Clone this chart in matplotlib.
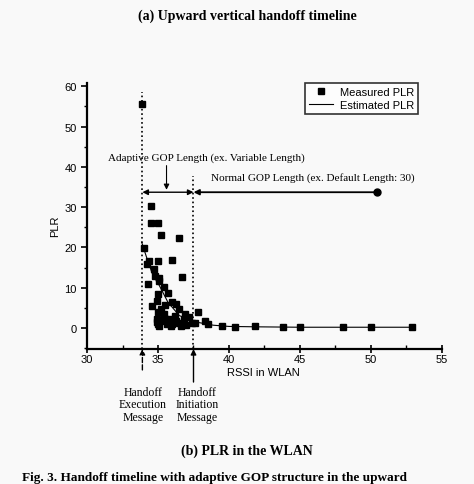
import matplotlib
matplotlib.use("Agg")
import matplotlib.pyplot as plt
from matplotlib.ticker import MultipleLocator

# measured PLR (RSSI, PLR)
meas_x = [33.9, 34.5, 34.5, 35.0, 35.2, 36.5, 34.0, 36.0, 34.4, 35.0, 34.2,
          36.7, 34.7, 34.3, 35.1, 34.8, 35.1, 35.4, 35.0, 35.7, 34.9, 36.0,
          36.3, 36.5, 35.2, 35.0, 35.4, 36.9, 37.2, 37.8, 34.9, 35.3, 35.8,
          36.3, 37.4, 35.0, 35.6, 36.0, 36.5, 37.6, 34.6, 35.5, 36.2, 36.8,
          37.0, 35.1, 35.9, 34.9, 35.4, 36.6,
          38.3, 38.5, 39.5, 40.4, 41.8, 43.8, 45.0, 48.0, 50.0, 52.9]
meas_y = [55.5, 30.4, 26.0, 26.0, 23.1, 22.3, 19.9, 16.9, 16.7, 16.7, 15.9,
          12.6, 14.6, 10.9, 12.3, 13.0, 11.7, 10.1, 8.4, 8.8, 6.8, 6.4,
          6.0, 4.7, 4.7, 3.9, 3.5, 3.5, 2.7, 3.9, 2.2, 1.8, 2.2,
          1.8, 1.2, 1.0, 1.0, 1.0, 1.2, 1.2, 5.5, 5.8, 3.0, 2.2,
          0.8, 0.5, 0.6, 1.5, 2.6, 0.6,
          1.8, 1.0, 0.5, 0.3, 0.5, 0.2, 0.2, 0.2, 0.2, 0.2]

# estimated PLR curve
est_x = [33.85, 34.2, 34.6, 35.1, 35.7, 36.5, 37.5, 38.9, 40.0, 42.0, 45.0, 48.0, 50.0, 53.0]
est_y = [21.3, 17.5, 13.5, 10.5, 6.4, 3.1, 1.6, 0.7, 0.4, 0.3, 0.2, 0.2, 0.2, 0.2]

exec_rssi = 33.9
init_rssi = 37.5
gop_end = 50.4
gop_level = 33.7

W, H = 474, 485
fig = plt.figure(figsize=(W / 100, H / 100), dpi=100, facecolor="#f9f9f9")
ax = fig.add_axes([87 / W, 1 - 350 / H, 355 / W, 266 / H])
ax.set_facecolor("#f9f9f9")

sans = "Liberation Sans"
serif = "Liberation Serif"

ax.plot(meas_x, meas_y, "s", color="black", markersize=4, label="Measured PLR")
ax.plot(est_x, est_y, "-", color="black", linewidth=0.8, label="Estimated PLR")

ax.set_xlim(30, 55)
ax.set_ylim(-5.2, 60.8)
ax.xaxis.set_major_locator(MultipleLocator(5))
ax.xaxis.set_minor_locator(MultipleLocator(2.5))
ax.yaxis.set_major_locator(MultipleLocator(10))
ax.yaxis.set_minor_locator(MultipleLocator(5))
ax.set_yticks(range(0, 61, 10))
ax.tick_params(axis="y", which="major", direction="out", length=4, width=1.2, labelsize=8)
ax.tick_params(axis="y", which="minor", direction="out", length=2.5, width=1)
ax.tick_params(axis="x", which="major", direction="inout", length=6, width=1.2,
               labelsize=8, pad=0.5)
ax.tick_params(axis="x", which="minor", direction="in", length=3, width=1)
for lab in ax.get_xticklabels() + ax.get_yticklabels():
    lab.set_family(sans)
for s in ["top", "right"]:
    ax.spines[s].set_visible(False)
for s in ["left", "bottom"]:
    ax.spines[s].set_linewidth(1.6)

# dotted vertical handoff lines
ax.plot([exec_rssi, exec_rssi], [-5.2, 58.6], ":", color="black", linewidth=1.2)
ax.plot([init_rssi, init_rssi], [-5.2, 37.7], ":", color="black", linewidth=1.2)

# GOP arrows
ax.annotate("", xy=(exec_rssi, gop_level), xytext=(init_rssi, gop_level),
            arrowprops=dict(arrowstyle="<|-|>", color="black", lw=1, shrinkA=0, shrinkB=0,
                            mutation_scale=8))
ax.annotate("", xy=(init_rssi, gop_level), xytext=(gop_end, gop_level),
            arrowprops=dict(arrowstyle="-|>", color="black", lw=1.3, shrinkA=0, shrinkB=0,
                            mutation_scale=8))
ax.plot([gop_end], [gop_level], "o", color="black", markersize=5)
ax.annotate("", xy=(35.6, 34.3), xytext=(35.6, 40.3),
            arrowprops=dict(arrowstyle="-|>", color="black", lw=0.8, shrinkA=0, shrinkB=0,
                            mutation_scale=8))
ax.text(38.4, 42.4, "Adaptive GOP Length (ex. Variable Length)", family=serif,
        fontsize=8, ha="center", va="center")
ax.text(45.9, 37.5, "Normal GOP Length (ex. Default Length: 30)", family=serif,
        fontsize=8, ha="center", va="center")

# handoff message arrows below the axis
ax.annotate("", xy=(exec_rssi, -5.2), xytext=(exec_rssi, -10.4), annotation_clip=False,
            arrowprops=dict(arrowstyle="-|>", color="black", lw=1, ls="--", shrinkA=0,
                            shrinkB=0, mutation_scale=8))
ax.annotate("", xy=(init_rssi, -5.2), xytext=(init_rssi, -13.4), annotation_clip=False,
            arrowprops=dict(arrowstyle="-|>", color="black", lw=1, shrinkA=0,
                            shrinkB=0, mutation_scale=8))
fig.text(143 / W, 1 - 387 / H, "Handoff\nExecution\nMessage", family=serif,
         fontsize=8.5, ha="center", va="top", linespacing=1.05)
fig.text(197 / W, 1 - 387 / H, "Handoff\nInitiation\nMessage", family=serif,
         fontsize=8.5, ha="center", va="top", linespacing=1.05)

fig.text(263 / W, 1 - 373 / H, "RSSI in WLAN", family=sans, fontsize=8,
         ha="center", va="center")
fig.text(55 / W, 1 - 226 / H, "PLR", family=sans, fontsize=8, rotation=90,
         ha="center", va="center")

leg = ax.legend(loc="upper right", bbox_to_anchor=(0.948, 1.02), frameon=True,
                fancybox=False, edgecolor="black", prop={"family": sans, "size": 8},
                handlelength=2.2, borderpad=0.35, labelspacing=0.25, handletextpad=0.6)
leg.get_frame().set_linewidth(1.2)
leg.get_frame().set_facecolor("white")

fig.text(247 / W, 1 - 16 / H, "(a) Upward vertical handoff timeline", family=serif,
         fontsize=10, weight="bold", ha="center", va="center")
fig.text(247 / W, 1 - 451 / H, "(b) PLR in the WLAN", family=serif,
         fontsize=10, weight="bold", ha="center", va="center")
fig.text(22 / W, 1 / H, "Fig. 3. Handoff timeline with adaptive GOP structure in the upward",
         family=serif, fontsize=9.5, weight="bold", ha="left", va="bottom")

fig.savefig("out.png", dpi=100, facecolor=fig.get_facecolor())
